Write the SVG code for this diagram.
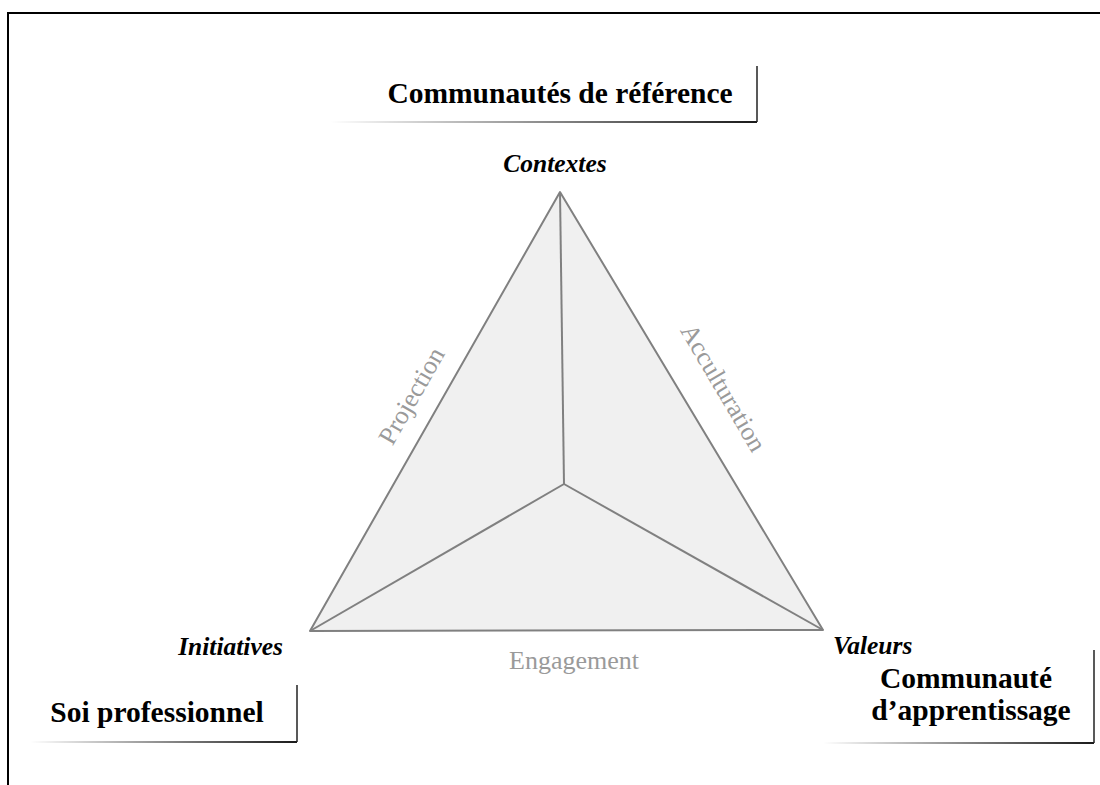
<svg xmlns="http://www.w3.org/2000/svg" width="1100" height="785" viewBox="0 0 1100 785">
<style>
.frame{stroke:#000;stroke-width:2;fill:none}
.tri{fill:#f0f0f0;stroke:#808080;stroke-width:2;stroke-linejoin:round}
.edge{stroke:#808080;stroke-width:2;fill:none}
.title{font-family:"Liberation Serif",serif;font-weight:bold;font-size:29.5px;fill:#000}
.vert{font-family:"Liberation Serif",serif;font-weight:bold;font-style:italic;font-size:25.5px;fill:#000}
.side{font-family:"Liberation Serif",serif;font-size:26px;fill:#9a9a9a}
.boxr{stroke:#222;stroke-width:1.5}
</style>
<defs>
<linearGradient id="shade" x1="0" y1="0" x2="1" y2="0">
<stop offset="0" stop-color="#000" stop-opacity="0"/>
<stop offset="1" stop-color="#000" stop-opacity="0.9"/>
</linearGradient>
</defs>
<path class="frame" d="M8,786 V13 H1101"/>
<g id="triangle">
<polygon class="tri" points="560,192 823,630 310,631"/>
<line class="edge" x1="560" y1="192" x2="564" y2="484"/>
<line class="edge" x1="564" y1="484" x2="310" y2="631"/>
<line class="edge" x1="564" y1="484" x2="823" y2="630"/>
</g>
<g id="connector-labels">
<text class="side" transform="translate(419,400) rotate(-60.3)" text-anchor="middle">Projection</text>
<text class="side" transform="translate(716,392) rotate(59.5)" text-anchor="middle" font-size="25">Acculturation</text>
<text class="side" x="574" y="669" text-anchor="middle">Engagement</text>
</g>
<g id="node-communautes-reference">
<rect x="330" y="121" width="427" height="2" fill="url(#shade)"/>
<line class="boxr" x1="757" y1="66" x2="757" y2="122"/>
<text class="title" x="560" y="103" text-anchor="middle">Communautés de référence</text>
</g>
<g id="node-soi">
<rect x="30" y="741" width="267" height="2" fill="url(#shade)"/>
<line class="boxr" x1="297" y1="685" x2="297" y2="742"/>
<text class="title" x="157" y="722" text-anchor="middle">Soi professionnel</text>
</g>
<g id="node-communaute-apprentissage">
<rect x="823" y="742" width="271" height="2" fill="url(#shade)"/>
<line class="boxr" x1="1094" y1="650" x2="1094" y2="743"/>
<text class="title" x="966" y="688" text-anchor="middle">Communauté</text>
<text class="title" x="971" y="720" text-anchor="middle">d’apprentissage</text>
</g>
<g id="node-contextes"><text class="vert" x="555" y="172" text-anchor="middle">Contextes</text></g>
<g id="node-initiatives"><text class="vert" x="283" y="655" text-anchor="end">Initiatives</text></g>
<g id="node-valeurs"><text class="vert" x="833" y="654">Valeurs</text></g>
</svg>
